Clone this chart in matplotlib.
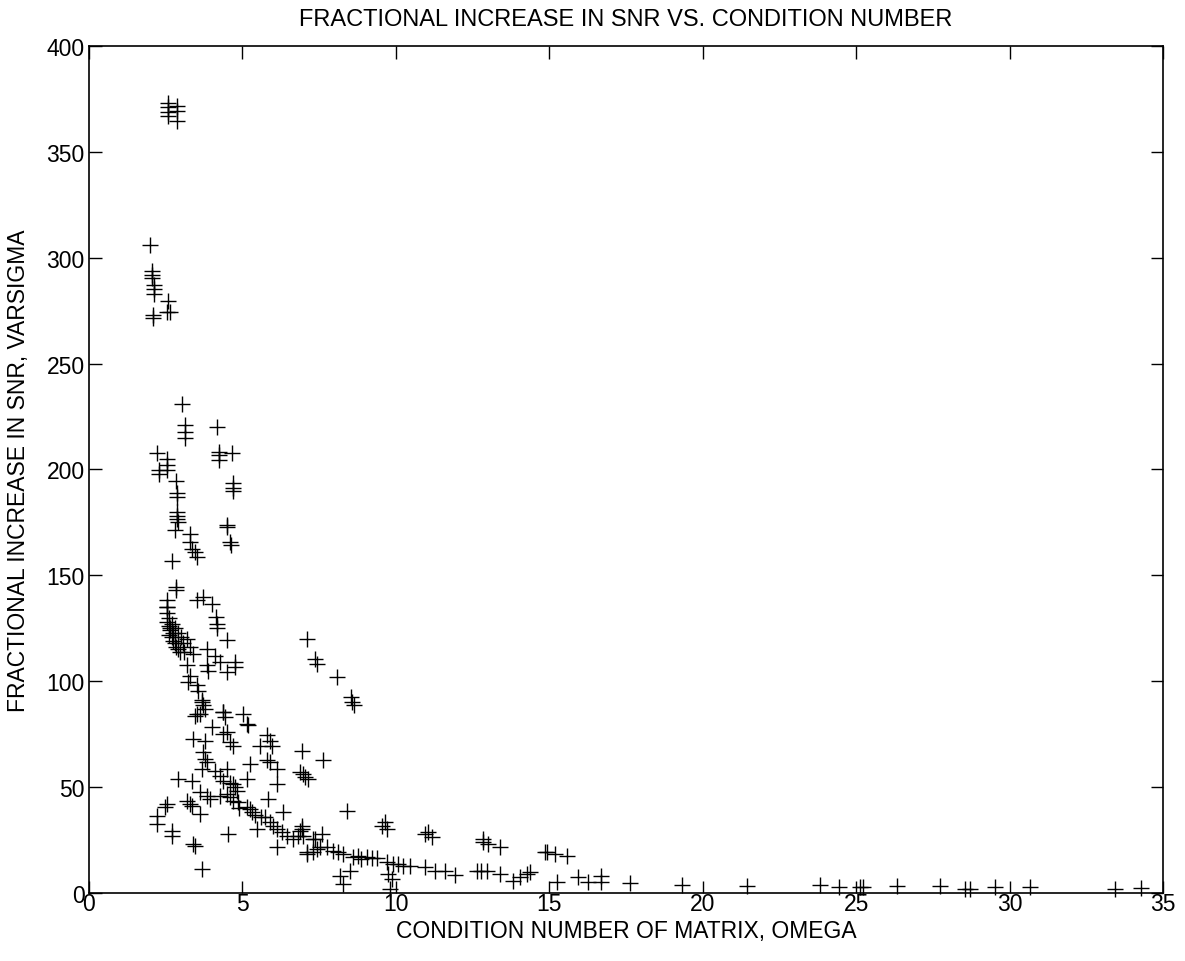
import matplotlib
matplotlib.use("Agg")
import matplotlib.pyplot as plt

# condition number (omega) and fractional SNR increase (varsigma)
omega = [
    2.56, 2.56, 2.56, 2.56, 2.88, 2.88, 2.88,
    1.99, 2.06, 2.06, 2.06, 2.13, 2.13, 2.13, 2.56, 2.55, 2.65, 2.10, 2.10,
    3.04, 3.13, 3.13, 3.13, 4.16, 4.24, 4.24, 4.24, 4.65, 2.21, 2.53, 2.53,
    2.29, 2.29, 2.53, 2.83, 2.86, 2.86, 4.70, 4.70, 4.70, 2.88, 2.88, 2.88,
    4.49, 2.91, 2.80, 3.29, 3.29, 3.35, 3.45, 3.51, 4.51, 4.59, 4.62,
    2.69, 2.83, 2.83, 2.53, 2.53,
    2.55, 2.55, 2.60, 2.55, 2.60, 2.65, 2.60, 2.70, 2.75, 2.80, 2.85, 2.90,
    2.95, 2.70, 2.80, 2.90, 3.00, 3.05, 3.10, 2.65, 2.75,
    3.51, 3.72, 4.00, 4.14, 4.16, 4.18, 4.51, 4.76, 4.76, 7.09, 7.36, 7.43,
    3.20, 3.30, 3.40, 3.83, 4.10, 4.27, 3.18, 3.29, 3.24, 3.83, 3.89, 4.49,
    3.51, 3.56, 3.67, 3.72, 3.78, 3.51, 4.38, 5.03,
    3.67, 3.62, 3.45, 4.38, 4.43, 5.14, 5.19, 4.00, 3.40, 3.78, 4.38, 4.49,
    4.59, 4.70, 5.79, 5.90, 5.95, 5.57, 6.93, 3.72, 3.78, 3.83, 3.67,
    4.10, 4.27, 4.38, 4.49, 4.59, 4.70, 4.76, 4.81, 5.25, 5.79, 5.90,
    6.12, 6.12, 6.88, 7.04, 7.15, 5.14, 2.91, 3.35,
    3.62, 3.83, 3.94, 4.27, 4.49, 4.59, 4.70, 4.86, 5.14, 5.25, 5.30,
    5.84, 6.33, 5.73, 5.90, 6.00, 6.12, 6.28, 6.44, 6.66, 6.82, 6.88,
    6.93, 7.31, 7.42, 7.09, 6.12, 5.46, 4.54, 3.67,
    2.53, 2.48, 2.21, 2.21, 2.69, 2.69, 3.18, 3.29, 3.35, 3.62, 3.40, 3.45,
    5.40, 5.60, 4.90,
    8.09, 8.53, 8.56, 8.65, 7.61, 6.98, 8.40, 9.54, 9.70, 9.64,
    10.95, 11.06, 11.17, 12.85, 13.01, 13.39, 12.85, 14.91,
    6.93, 6.98, 7.36, 7.58, 7.09, 7.31, 7.52, 7.75, 7.96, 8.12, 8.29,
    8.61, 8.78, 8.88, 9.05, 9.21, 9.37, 8.18, 8.29, 8.50,
    9.70, 9.92, 10.08, 10.24, 10.46, 9.75, 9.86, 9.81,
    10.95, 11.27, 11.60, 11.93, 12.63, 12.79, 12.96, 13.39,
    13.83, 14.04, 14.26,
    14.86, 15.18, 15.57, 14.37, 15.24, 15.94, 16.27, 16.70, 16.70,
    17.63, 19.31, 21.43,
    23.82, 24.45, 25.12, 25.23, 26.32, 27.73, 28.54, 28.70, 29.52, 30.66,
    33.43, 34.30,
]
varsigma = [
    373.0, 371.0, 369.0, 367.0, 371.5, 369.4, 364.4,
    306.0, 293.5, 292.0, 290.5, 286.9, 285.0, 283.0, 279.6, 274.5, 274.5, 273.0, 271.5,
    230.7, 221.0, 217.5, 215.0, 220.2, 208.4, 206.6, 204.7, 207.6, 207.6, 204.8, 202.3,
    199.6, 198.0, 199.6, 194.5, 189.0, 187.0, 193.4, 191.3, 189.7, 180.0, 178.0, 176.5,
    173.7, 175.3, 171.3, 169.7, 165.8, 162.6, 161.0, 158.7, 172.9, 165.8, 164.5,
    156.6, 144.5, 142.9, 138.2, 135.2,
    135.0, 132.0, 130.0, 128.0, 126.0, 124.0, 122.0, 121.0, 119.0, 118.0, 116.0, 115.0,
    114.0, 127.0, 125.0, 123.0, 121.0, 118.0, 114.0, 125.0, 123.0,
    138.2, 139.8, 136.6, 130.4, 127.2, 125.1, 119.3, 109.0, 106.7, 120.1, 110.6, 108.0,
    120.0, 116.0, 113.0, 115.4, 112.0, 109.0, 107.5, 102.7, 99.6, 107.5, 105.0, 104.3,
    98.0, 95.6, 90.9, 88.6, 87.0, 84.6, 85.4, 84.6,
    90.2, 84.6, 83.8, 85.4, 83.0, 79.9, 79.4, 78.3, 72.8, 72.0, 75.2, 75.9,
    71.3, 69.6, 74.4, 72.0, 69.6, 69.6, 67.2, 66.5, 63.4, 61.7, 58.6,
    57.8, 55.4, 53.0, 58.6, 52.0, 51.5, 50.0, 48.3, 61.0, 62.6, 61.7,
    58.6, 51.5, 57.0, 54.7, 53.9, 53.9, 53.9, 53.0,
    47.6, 46.0, 44.4, 46.0, 46.8, 45.2, 43.6, 42.8, 40.5, 39.7, 38.1,
    44.4, 38.1, 35.7, 33.4, 31.8, 30.3, 28.7, 27.1, 25.5, 27.1, 29.5,
    31.8, 25.5, 20.8, 19.2, 21.6, 30.3, 27.9, 11.3,
    42.1, 40.5, 36.5, 32.6, 29.5, 27.1, 43.6, 42.1, 41.2, 37.4, 23.1, 22.3,
    37.0, 36.0, 40.0,
    102.0, 92.5, 90.1, 88.6, 62.6, 56.3, 38.9, 31.8, 30.3, 33.4,
    27.9, 28.7, 26.3, 23.9, 23.1, 21.6, 25.5, 19.2,
    30.3, 27.1, 25.5, 27.9, 18.4, 19.2, 21.6, 21.6, 20.0, 19.2, 18.4,
    16.8, 17.6, 16.0, 16.8, 16.4, 16.4, 8.2, 4.3, 10.5,
    14.5, 13.7, 13.7, 12.9, 12.9, 9.0, 6.6, 2.0,
    12.1, 10.5, 10.5, 8.5, 10.5, 10.5, 10.5, 9.0,
    5.8, 7.4, 9.0,
    19.2, 18.4, 17.6, 9.7, 5.0, 7.4, 5.0, 8.2, 5.0,
    4.7, 3.9, 3.5,
    4.0, 3.0, 3.0, 3.0, 3.5, 3.5, 2.0, 2.0, 3.0, 3.0,
    2.0, 2.5,
]

plt.rcParams["font.family"] = ["Liberation Sans", "DejaVu Sans"]

fig = plt.figure(figsize=(11.85, 9.62), dpi=100)
ax = fig.add_axes([0.0751, 0.0707, 0.9063, 0.8805])

ax.plot(omega, varsigma, linestyle="none", marker="+", color="black",
        markersize=11, markeredgewidth=1.0, clip_on=False)

ax.set_xlim(0, 35)
ax.set_ylim(0, 400)
ax.set_xticks(range(0, 36, 5))
ax.set_yticks(range(0, 401, 50))
ax.tick_params(direction="in", length=9, width=1, top=True, right=True,
               labelsize=16.5)
ax.tick_params(axis="x", pad=-1)
ax.tick_params(axis="y", pad=3)
for s in ax.spines.values():
    s.set_linewidth(1.2)

ax.set_title("FRACTIONAL INCREASE IN SNR VS. CONDITION NUMBER",
             fontsize=17, pad=15)
ax.set_xlabel("CONDITION NUMBER OF MATRIX, OMEGA", fontsize=16.5, labelpad=3)
ax.set_ylabel("FRACTIONAL INCREASE IN SNR, VARSIGMA", fontsize=16.5, labelpad=12)

plt.savefig("out.png", dpi=100)
